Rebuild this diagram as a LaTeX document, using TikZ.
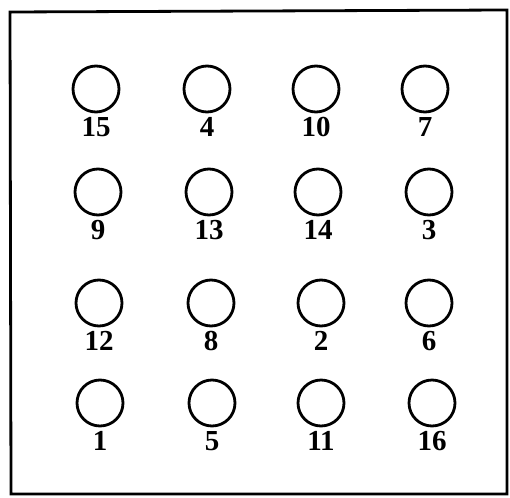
\documentclass[tikz,border=0pt]{standalone}
\usepackage{fontspec}
\setmainfont{Liberation Serif}
\begin{document}
\begin{tikzpicture}[x=1pt,y=-1pt,
  hole/.style={circle,draw,line width=2.8pt,minimum size=46pt,inner sep=0pt},
  num/.style={font=\fontsize{29}{29}\selectfont\bfseries,anchor=base,inner sep=0pt}]
\useasboundingbox (0,0) rectangle (510,497);
\draw[line width=2.8pt] (10,12) -- (507,10) -- (507,494) -- (11,494) -- cycle;
\foreach \x/\y/\n/\t in {
 96/89/a/15, 207/89/b/4, 316/89/c/10, 425/89/d/7,
 98/192/e/9, 209/192/f/13, 318/192/g/14, 429/192/h/3,
 99/303/i/12, 211/303/j/8, 321/303/k/2, 429/303/l/6,
 100/403/m/1, 212/403/n/5, 321/403/o/11, 432/403/p/16}{
  \node[hole] (c\n) at (\x,\y) {};
  \node[num] (t\n) at (\x,\y+47) {\t};
}
\end{tikzpicture}
\end{document}
